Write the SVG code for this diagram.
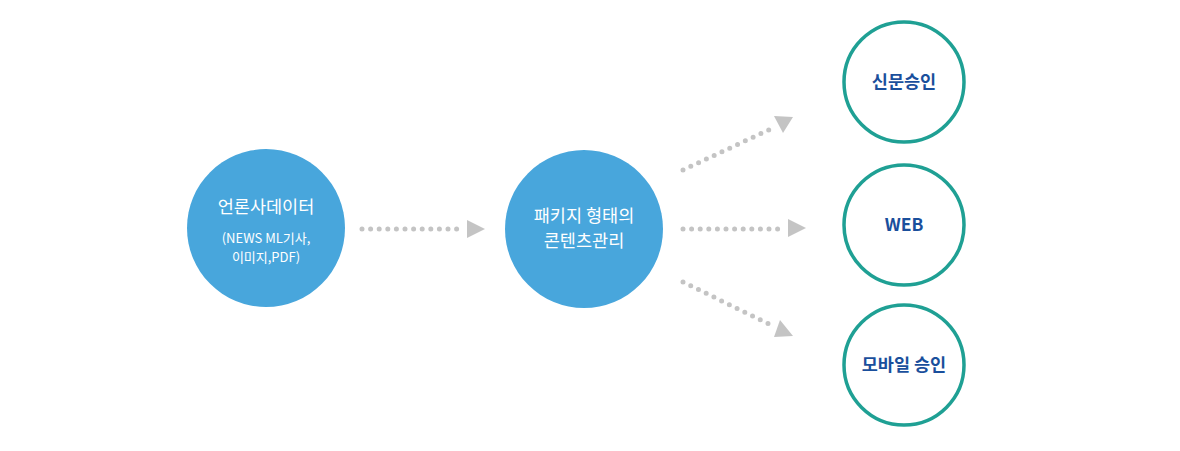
<svg xmlns="http://www.w3.org/2000/svg" width="1180" height="451" viewBox="0 0 1180 451">
<defs>
<style>
.fill{fill:#48a6dc}
.ring{fill:#fff;stroke:#1fa094;stroke-width:3.5}
.wt{fill:#fff;font-family:"Noto Sans CJK KR","Noto Sans",sans-serif;text-anchor:middle}
.bt{fill:#1a4f9c;font-family:"Noto Sans CJK KR","Noto Sans",sans-serif;font-weight:bold;font-size:17.5px;text-anchor:middle}
.dots{stroke:#c4c4c4;stroke-width:5;stroke-linecap:round;stroke-dasharray:0 8.6;fill:none}
.head{fill:#c4c4c4}
</style>
</defs>
<rect width="1180" height="451" fill="#fff"/>
<g id="connectors">
<line class="dots" x1="362" y1="229" x2="463" y2="229"/>
<polygon class="head" points="467,220 485,229 467,238"/>
<line class="dots" x1="683" y1="229" x2="784" y2="229"/>
<polygon class="head" points="788,219 806,228 788,237"/>
<line class="dots" x1="683" y1="170" x2="775" y2="127"/>
<polygon class="head" points="774,116 793,117 783,133"/>
<line class="dots" x1="683" y1="282" x2="775" y2="327"/>
<polygon class="head" points="780,320 793,336 774,337"/>
</g>
<g id="source">
<circle class="fill" cx="266" cy="228" r="79"/>
<text class="wt" x="266" y="213" font-size="17.5">언론사데이터</text>
<text class="wt" x="266" y="243" font-size="13">(NEWS ML기사,</text>
<text class="wt" x="266" y="262" font-size="13">이미지,PDF)</text>
</g>
<g id="package">
<circle class="fill" cx="584" cy="229" r="79"/>
<text class="wt" x="584" y="222" font-size="17.5">패키지 형태의</text>
<text class="wt" x="584" y="247" font-size="17.5">콘텐츠관리</text>
</g>
<g id="paper">
<circle class="ring" cx="904" cy="82" r="60"/>
<text class="bt" x="904" y="88">신문승인</text>
</g>
<g id="web">
<circle class="ring" cx="904" cy="225" r="60"/>
<text class="bt" x="904" y="231">WEB</text>
</g>
<g id="mobile">
<circle class="ring" cx="904" cy="365" r="60"/>
<text class="bt" x="904" y="371">모바일 승인</text>
</g>
</svg>
